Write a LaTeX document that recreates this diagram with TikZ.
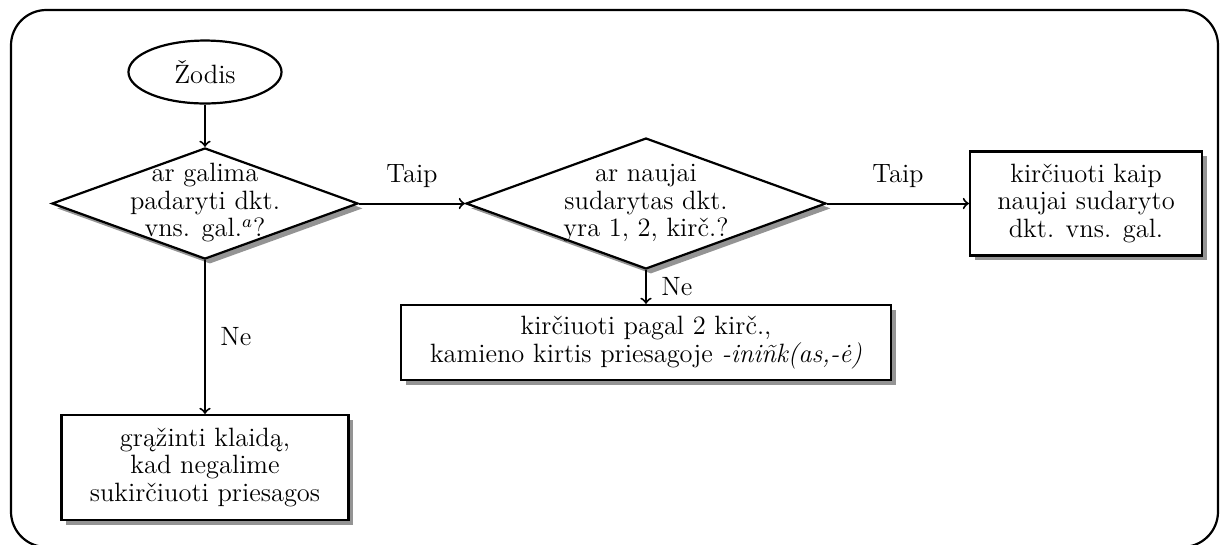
\documentclass[tikz,border=0pt]{standalone}
\usepackage{fontspec}
\usetikzlibrary{shapes.geometric,shadows}

% multi-line text that does not enlarge the diamond around it
\newcommand\diamondtext[1]{\smash{\makebox[0pt]{\raisebox{-3pt}{\begin{tabular}[c]{@{}c@{}}#1\end{tabular}}}}}

\begin{document}
\begin{tikzpicture}[x=0.4528pt,y=-0.4528pt,
  every node/.style={font=\fontsize{12}{12.5}\selectfont},
  softshadow/.style={drop shadow={shadow xshift=2.2pt,shadow yshift=-2.2pt,fill=black!60,opacity=0.7}},
  startnode/.style={ellipse,draw,line width=1pt,fill=white,inner sep=0pt,
    minimum width=69.3pt,minimum height=28.5pt},
  decision/.style={diamond,draw,line width=1pt,fill=white,inner sep=0pt,softshadow},
  actionbox/.style={rectangle,draw,line width=1pt,fill=white,align=center,inner sep=2pt,softshadow},
  flow/.style={->,line width=0.9pt},
  lbl/.style={inner sep=0pt}]

\useasboundingbox (0,0) rectangle (1228,544);

% outer frame
\draw[line width=1pt,rounded corners=16pt] (11,10) rectangle (1218,547);

% nodes
\node[startnode] (start) at (205,72) {Žodis};
\node[decision,minimum width=138.6pt,minimum height=50.3pt] (d1) at (205,203.5)
  {\diamondtext{ar galima\\ padaryti dkt.\\ vns. gal.$^{a}$?}};
\node[decision,minimum width=163pt,minimum height=59.3pt] (d2) at (646,203.5)
  {\diamondtext{ar naujai\\ sudarytas dkt.\\ yra 1, 2, kirč.?}};
\node[actionbox,minimum width=105pt,minimum height=47.1pt] (res) at (1086,203.5)
  {kirčiuoti kaip\\ naujai sudaryto\\ dkt. vns. gal.};
\node[actionbox,minimum width=221.9pt,minimum height=34pt] (mid) at (646,342.5)
  {kirčiuoti pagal 2 kirč.,\\ kamieno kirtis priesagoje \textit{-iniñk(as,-ė)}};
\node[actionbox,minimum width=130pt,minimum height=47.5pt] (err) at (205,467.5)
  {grąžinti klaidą,\\ kad negalime\\ sukirčiuoti priesagos};

% connectors
\draw[flow] (start.south) -- (d1.north);
\draw[flow] (d1.east) -- node[lbl,above=6.6pt] {Taip} (d2.west);
\draw[flow] (d2.east) -- node[lbl,above=6.6pt] {Taip} (res.west);
\draw[flow] (d2.south) -- node[lbl,right=6.5pt] {Ne} (mid.north);
\draw[flow] (d1.south) -- node[lbl,right=6.5pt] {Ne} (err.north);
\end{tikzpicture}
\end{document}
